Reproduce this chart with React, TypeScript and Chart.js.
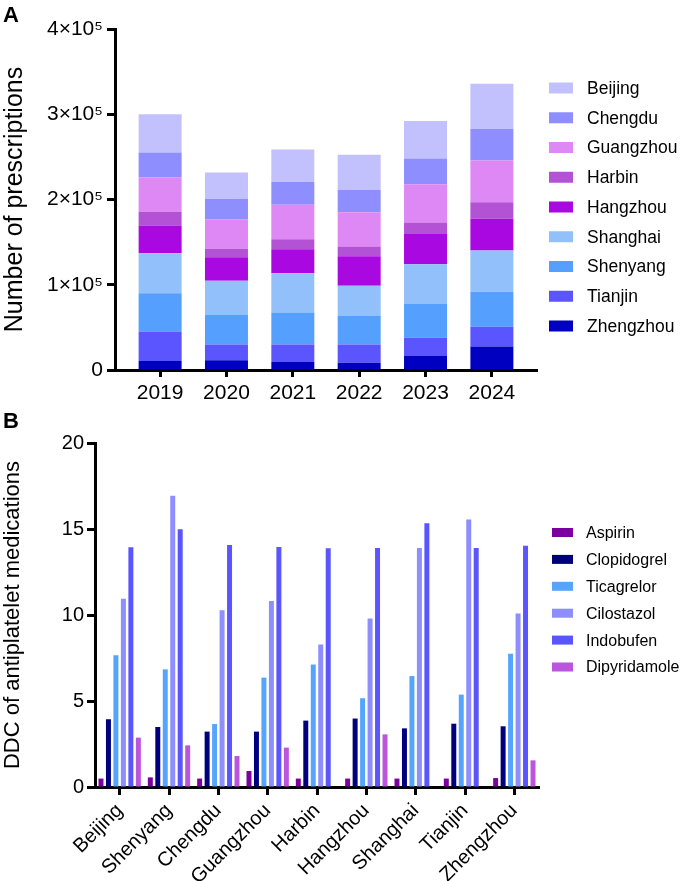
import React, { useEffect, useRef } from "react";
import { Chart, registerables } from "chart.js";

Chart.register(...registerables);

const FONT = '"Liberation Sans", Arial, Helvetica, sans-serif';

// Panel A: prescriptions per year, stacked by city (bottom of stack first)
const years = ["2019", "2020", "2021", "2022", "2023", "2024"];
const zhengzhouRx = [10600, 11400, 9400, 8600, 16500, 27500];
const tianjinRx = [34500, 18400, 20400, 21200, 21200, 23100];
const shenyangRx = [44800, 34600, 37700, 33400, 39600, 41300];
const shanghaiRx = [47100, 40400, 46000, 35700, 46800, 48300];
const hangzhouRx = [32600, 27500, 28200, 34600, 35300, 37300];
const harbinRx = [16100, 9800, 11800, 11400, 13700, 19200];
const guangzhouRx = [40400, 34600, 40400, 40000, 44800, 49100];
const chengduRx = [29100, 24300, 26700, 26300, 30200, 36900];
const beijingRx = [44700, 30600, 38100, 41200, 44000, 53000];

const stackCities = ["Zhengzhou", "Tianjin", "Shenyang", "Shanghai", "Hangzhou", "Harbin", "Guangzhou", "Chengdu", "Beijing"];
const stackSeries = [zhengzhouRx, tianjinRx, shenyangRx, shanghaiRx, hangzhouRx, harbinRx, guangzhouRx, chengduRx, beijingRx];
const stackColors = ["#0000C0", "#5A55FF", "#55A0FF", "#92C0FA", "#AA08E0", "#B452D6", "#DD88F5", "#8E8EFF", "#C3C0FE"];
const prescriptionTickValues = [0, 100000, 200000, 300000, 400000];
const prescriptionTickLabels = ["0", "1×10⁵", "2×10⁵", "3×10⁵", "4×10⁵"];

// Panel B: DDC per city for each antiplatelet drug
const cities = ["Beijing", "Shenyang", "Chengdu", "Guangzhou", "Harbin", "Hangzhou", "Shanghai", "Tianjin", "Zhengzhou"];
const aspirin = [0.49, 0.56, 0.49, 0.93, 0.49, 0.49, 0.49, 0.49, 0.52];
const clopidogrel = [3.94, 3.49, 3.22, 3.22, 3.86, 3.98, 3.41, 3.68, 3.53];
const ticagrelor = [7.66, 6.84, 3.66, 6.36, 7.12, 5.16, 6.45, 5.37, 7.75];
const cilostazol = [10.95, 16.94, 10.27, 10.81, 8.28, 9.79, 13.9, 15.55, 10.08];
const indobufen = [13.94, 14.98, 14.07, 13.95, 13.88, 13.9, 15.33, 13.9, 14.03];
const dipyridamole = [2.87, 2.42, 1.8, 2.29, null, 3.06, null, null, 1.55];

const drugNames = ["Aspirin", "Clopidogrel", "Ticagrelor", "Cilostazol", "Indobufen", "Dipyridamole"];
const drugSeries = [aspirin, clopidogrel, ticagrelor, cilostazol, indobufen, dipyridamole];
const drugColors = ["#7A00A0", "#00007F", "#55A5FF", "#8E8EFF", "#5A55FF", "#BB55DD"];
const ddcTickValues = [0, 5, 10, 15, 20];

// Legend drawn beside the plot as a column of boxes and names
const sideLegend = {
  id: "sideLegend",
  afterDraw(chart: any, _args: any, opts: any) {
    const { ctx } = chart;
    const items = chart.data.datasets.map((d: any) => ({ label: d.label, color: d.backgroundColor }));
    if (opts.reverse) items.reverse();
    ctx.save();
    ctx.font = `${opts.fontSize}px ${FONT}`;
    ctx.textBaseline = "middle";
    ctx.textAlign = "left";
    items.forEach((it: any, i: number) => {
      const cy = opts.y + i * opts.spacing;
      ctx.fillStyle = it.color;
      ctx.fillRect(opts.x, cy - opts.boxH / 2, opts.boxW, opts.boxH);
      ctx.fillStyle = "#000";
      ctx.fillText(it.label, opts.x + opts.boxW + opts.gap, cy + 1);
    });
    ctx.restore();
  },
};

// Bold panel letter in the corner
const panelLetter = {
  id: "panelLetter",
  afterDraw(chart: any, _args: any, opts: any) {
    const { ctx } = chart;
    ctx.save();
    ctx.font = `bold ${opts.size}px ${FONT}`;
    ctx.fillStyle = "#000";
    ctx.textBaseline = "alphabetic";
    ctx.fillText(opts.text, opts.x, opts.y);
    ctx.restore();
  },
};

const axisBorder = { display: true, width: 3, color: "#000" };

function makeStackChart(canvas: HTMLCanvasElement) {
  return new Chart(canvas, {
    type: "bar",
    data: {
      datasets: stackCities.map((name, i) => ({
        label: name,
        data: stackSeries[i].map((v, j) => ({ x: j, y: v })),
        backgroundColor: stackColors[i],
        borderWidth: 0,
        categoryPercentage: 1,
        barPercentage: 0.648,
      })),
    },
    options: {
      responsive: false,
      animation: false,
      devicePixelRatio: 1,
      layout: { padding: { left: 0, top: 29, right: 143, bottom: 0 } },
      plugins: {
        legend: { display: false },
        tooltip: { enabled: false },
        sideLegend: { x: 549, y: 88, spacing: 29.75, boxW: 24, boxH: 11, gap: 14, fontSize: 17.5, reverse: true },
        panelLetter: { text: "A", x: 3, y: 22, size: 22 },
      } as any,
      scales: {
        x: {
          type: "linear",
          stacked: true,
          offset: false,
          min: -0.68,
          max: 5.68,
          afterBuildTicks: (s: any) => {
            s.ticks = years.map((_, i) => ({ value: i }));
          },
          afterFit: (s: any) => {
            s.height = 40;
          },
          ticks: {
            callback: (v: any) => years[v],
            color: "#000",
            font: { family: FONT, size: 21 },
            padding: 4,
            maxRotation: 0,
            autoSkip: false,
          },
          grid: { offset: false, drawOnChartArea: false, drawTicks: true, tickLength: 7, tickWidth: 3, tickColor: "#000" },
          border: axisBorder,
        },
        y: {
          stacked: true,
          min: 0,
          max: 400000,
          afterBuildTicks: (s: any) => {
            s.ticks = prescriptionTickValues.map((v) => ({ value: v }));
          },
          afterFit: (s: any) => {
            s.width = 115;
          },
          ticks: {
            callback: (_v: any, i: number) => prescriptionTickLabels[i],
            color: "#000",
            font: { family: FONT, size: 21 },
            padding: 4,
          },
          grid: { drawOnChartArea: false, drawTicks: true, tickLength: 8, tickWidth: 3, tickColor: "#000" },
          border: axisBorder,
          title: {
            display: true,
            text: "Number of prescriptions",
            color: "#000",
            font: { family: FONT, size: 25 },
            padding: 0,
          },
        },
      },
    } as any,
    plugins: [sideLegend, panelLetter],
  });
}

function makeDrugChart(canvas: HTMLCanvasElement) {
  return new Chart(canvas, {
    type: "bar",
    data: {
      labels: cities,
      datasets: drugNames.map((name, i) => ({
        label: name,
        data: drugSeries[i],
        backgroundColor: drugColors[i],
        borderWidth: 0,
        categoryPercentage: 0.909,
        barPercentage: 0.667,
      })),
    },
    options: {
      responsive: false,
      animation: false,
      devicePixelRatio: 1,
      layout: { padding: { left: 0, top: 43, right: 141, bottom: 0 } },
      plugins: {
        legend: { display: false },
        tooltip: { enabled: false },
        sideLegend: { x: 552, y: 132.5, spacing: 26.9, boxW: 21, boxH: 9, gap: 13, fontSize: 16, reverse: false },
        panelLetter: { text: "B", x: 3, y: 28, size: 22 },
      } as any,
      scales: {
        x: {
          afterFit: (s: any) => {
            s.height = 94;
          },
          ticks: {
            color: "#000",
            font: { family: FONT, size: 20 },
            padding: 4,
            minRotation: 45,
            maxRotation: 45,
            autoSkip: false,
          },
          grid: { offset: false, drawOnChartArea: false, drawTicks: true, tickLength: 8, tickWidth: 3, tickColor: "#000" },
          border: axisBorder,
        },
        y: {
          min: 0,
          max: 20,
          afterBuildTicks: (s: any) => {
            s.ticks = ddcTickValues.map((v) => ({ value: v }));
          },
          afterFit: (s: any) => {
            s.width = 95;
          },
          ticks: {
            color: "#000",
            font: { family: FONT, size: 20 },
            padding: 3,
          },
          grid: { drawOnChartArea: false, drawTicks: true, tickLength: 8, tickWidth: 3, tickColor: "#000" },
          border: axisBorder,
          title: {
            display: true,
            text: "DDC of antiplatelet medications",
            color: "#000",
            font: { family: FONT, size: 22 },
            padding: 0,
          },
        },
      },
    } as any,
    plugins: [sideLegend, panelLetter],
  });
}

export default function App() {
  const topRef = useRef<HTMLCanvasElement | null>(null);
  const bottomRef = useRef<HTMLCanvasElement | null>(null);

  useEffect(() => {
    const a = makeStackChart(topRef.current!);
    const b = makeDrugChart(bottomRef.current!);
    return () => {
      a.destroy();
      b.destroy();
    };
  }, []);

  return (
    <div style={{ position: "absolute", left: 0, top: 0, width: 680, height: 881, background: "#fff", overflow: "hidden" }}>
      <canvas
        ref={topRef}
        width={680}
        height={410}
        style={{ position: "absolute", left: 0, top: 0, width: 680, height: 410 }}
      />
      <canvas
        ref={bottomRef}
        width={680}
        height={481}
        style={{ position: "absolute", left: 0, top: 400, width: 680, height: 481 }}
      />
    </div>
  );
}
